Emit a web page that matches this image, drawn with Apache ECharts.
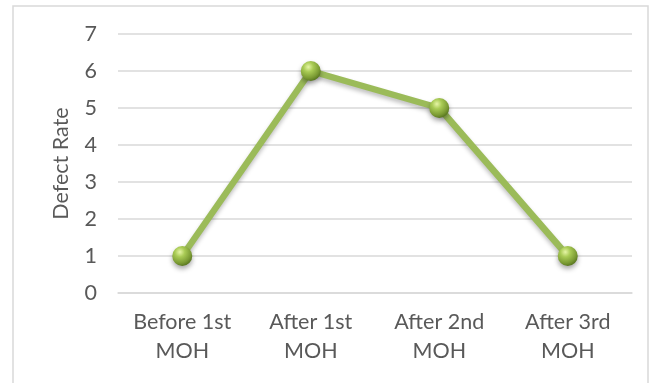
<!DOCTYPE html>
<html>
<head>
<meta charset="utf-8">
<script src="https://cdn.jsdelivr.net/npm/echarts@6/dist/echarts.min.js"></script>
<style>
  html, body { margin: 0; padding: 0; background: #fff; }
  #chart { width: 665px; height: 383px; }
</style>
</head>
<body>
<div id="chart"></div>
<script>
// Defect rate across maintenance overhauls (MOH)
const categories = ['Before 1st\nMOH', 'After 1st\nMOH', 'After 2nd\nMOH', 'After 3rd\nMOH'];
const defectRate = [1, 6, 5, 1];
const yTicks = { min: 0, max: 7, interval: 1 };

const FONT = 'Lato, "Open Sans", sans-serif';
const TEXT = '#595959';

const chart = echarts.init(document.getElementById('chart'), null, { renderer: 'canvas' });

const sphere = new echarts.graphic.RadialGradient(0.38, 0.3, 0.7, [
  { offset: 0, color: '#e6f5a6' },
  { offset: 0.35, color: '#a9cb55' },
  { offset: 0.8, color: '#7a9a33' },
  { offset: 1, color: '#5c7a22' }
]);

chart.setOption({
  animation: false,
  backgroundColor: '#ffffff',
  graphic: [{
    type: 'rect',
    shape: { x: 13, y: 6, width: 635, height: 400 },
    style: { fill: 'none', stroke: '#d9d9d9', lineWidth: 1.5 },
    silent: true,
    z: -1
  }],
  grid: { left: 118, right: 33, top: 34, bottom: 90 },
  xAxis: {
    type: 'category',
    data: categories,
    boundaryGap: true,
    axisLine: { show: true, lineStyle: { color: '#d9d9d9', width: 1.5 } },
    axisTick: { show: false },
    axisLabel: {
      color: TEXT,
      fontFamily: FONT,
      fontSize: 21.5,
      lineHeight: 29,
      margin: 15,
      interval: 0
    }
  },
  yAxis: {
    type: 'value',
    min: yTicks.min,
    max: yTicks.max,
    interval: yTicks.interval,
    name: 'Defect Rate',
    nameLocation: 'middle',
    nameGap: 46,
    nameRotate: 90,
    nameTextStyle: { color: TEXT, fontFamily: FONT, fontSize: 21.5 },
    axisLine: { show: false },
    axisTick: { show: false },
    axisLabel: { color: TEXT, fontFamily: FONT, fontSize: 21.5, margin: 21 },
    splitLine: { lineStyle: { color: '#d9d9d9', width: 1.5 } }
  },
  series: [{
    type: 'line',
    data: defectRate,
    symbol: 'circle',
    symbolSize: 20,
    lineStyle: {
      color: '#9bbb59',
      width: 6.5,
      shadowColor: 'rgba(0,0,0,0.25)',
      shadowBlur: 4,
      shadowOffsetY: 3
    },
    itemStyle: {
      color: sphere,
      borderWidth: 0,
      shadowColor: 'rgba(0,0,0,0.35)',
      shadowBlur: 5,
      shadowOffsetY: 3
    }
  }]
});
</script>
</body>
</html>
